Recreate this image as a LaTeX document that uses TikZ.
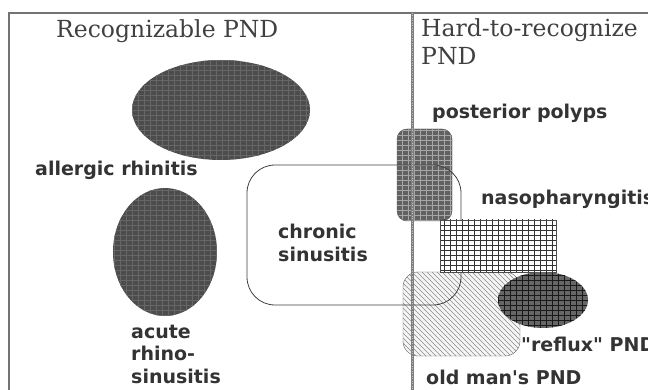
\documentclass[tikz,border=0pt]{standalone}
\usepackage{fontspec}
\newfontfamily\lblfont{DejaVu Sans}
\newfontfamily\ttlfont{DejaVu Serif}
\usetikzlibrary{shapes.geometric,patterns}
\pgfdeclarepatternformonly{coarsegrid}{\pgfqpoint{-1pt}{-1pt}}{\pgfqpoint{7pt}{6pt}}{\pgfqpoint{6pt}{5pt}}{
  \pgfsetlinewidth{0.8pt}
  \pgfpathmoveto{\pgfqpoint{0pt}{0pt}}\pgfpathlineto{\pgfqpoint{6.1pt}{0pt}}
  \pgfpathmoveto{\pgfqpoint{0pt}{0pt}}\pgfpathlineto{\pgfqpoint{0pt}{5.1pt}}
  \pgfusepath{stroke}}
\pgfdeclarepatternformonly{sparsehatch}{\pgfqpoint{-1pt}{-1pt}}{\pgfqpoint{6pt}{6pt}}{\pgfqpoint{5pt}{5pt}}{
  \pgfsetlinewidth{0.5pt}
  \pgfpathmoveto{\pgfqpoint{0pt}{5pt}}\pgfpathlineto{\pgfqpoint{5.1pt}{-0.1pt}}
  \pgfusepath{stroke}}
\tikzset{
  disease/.style={font=\lblfont\bfseries\fontsize{19}{22.5}\selectfont, text=black!80, inner sep=0, anchor=west, align=left},
  ttl/.style={font=\ttlfont\fontsize{23.5}{28}\selectfont, text=black!75, inner sep=0, anchor=base west},
  blob/.style={ellipse, inner sep=0, outer sep=0, fill=black!70},
}
\begin{document}
\begin{tikzpicture}[x=1pt,y=-1pt]
            \useasboundingbox (0,0) rectangle (648,390);
            \fill[white] (0,0) rectangle (648,390);
            \draw[black!55, line width=1.5pt] (9,390) -- (9,13) -- (648,13);
            \node[blob, minimum width=178, minimum height=100, preaction={fill=black!70}, pattern=coarsegrid, pattern color=black!60] (allergic) at (221,110) {};
            \node[blob, minimum width=104, minimum height=128, preaction={fill=black!70}, pattern=coarsegrid, pattern color=black!60] (acute) at (165,252) {};
            \node[rectangle, rounded corners=10, minimum width=55, minimum height=92, inner sep=0,
                  preaction={fill=black!62}, pattern=coarsegrid, pattern color=black!35, draw=black!65] (polyps) at (424.5,175) {};
            \node[rectangle, rounded corners=15, minimum width=117, minimum height=84, inner sep=0,
                  preaction={fill=black!4}, pattern=sparsehatch, pattern color=black!45, draw=black!60] (oldman) at (461.5,314) {};
            \node[rectangle, rounded corners=28, minimum width=214, minimum height=140, inner sep=0,
                  draw=black!75, line width=0.8pt] (chronic) at (354,235) {};
            \node[rectangle, minimum width=116, minimum height=52, inner sep=0,
                  preaction={fill=white}, pattern=coarsegrid, pattern color=black!80, draw=black!70] (naso) at (498,246) {};
            \node[blob, minimum width=90, minimum height=56, preaction={fill=black!60}, pattern=coarsegrid, pattern color=black!90] (reflux) at (543,300) {};
            \coordinate (D1) at (412,13);
            \coordinate (D2) at (412,390);
            \draw[black!50, line width=3pt] (D1) -- (D2);
            \draw[black!25, line width=1pt, dash pattern=on 1pt off 1.5pt] (D1) -- (D2);
            \node[ttl] (leftttl) at (56,38) {Recognizable PND};
            \node[ttl] (rightttl) at (421,37) {Hard-to-recognize};
            \node[ttl] (rightttl2) at (421,65) {PND};
            \node[disease] (allergiclbl) at (35,170) {allergic rhinitis};
            \node[disease] (acutelbl) at (131,354) {acute\\rhino-\\sinusitis};
            \node[disease] (chroniclbl) at (278,243) {chronic\\sinusitis};
            \node[disease] (polypslbl) at (432,113) {posterior polyps};
            \node[disease] (nasolbl) at (481,199) {nasopharyngitis};
            \node[disease] (refluxlbl) at (521,344) {"reflux" PND};
            \node[disease] (oldmanlbl) at (426,377) {old man's PND};
        \end{tikzpicture}
\end{document}
